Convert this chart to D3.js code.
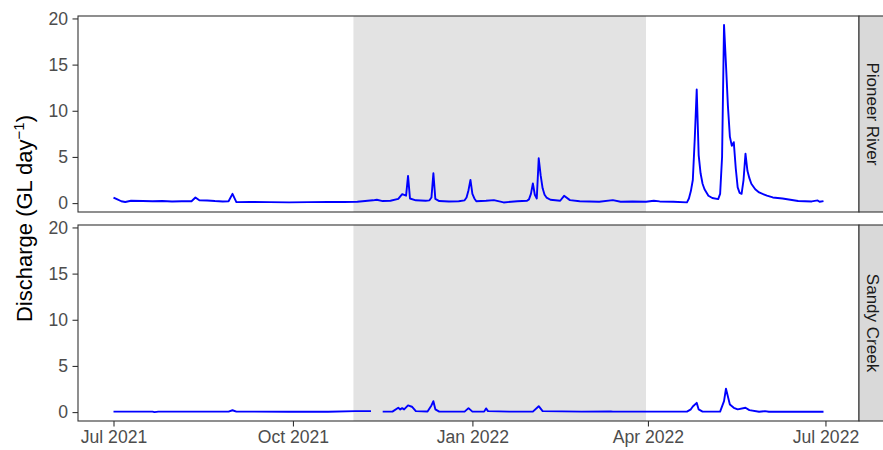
<!DOCTYPE html>
<html><head><meta charset="utf-8">
<script src="https://cdn.jsdelivr.net/npm/d3@7/dist/d3.min.js"></script>
<style>body{margin:0;background:#fff} svg{display:block}</style>
</head><body>
<svg id="chart" width="883" height="450"></svg>
<script>
// ---------- data ----------
const panelNames = ["Pioneer River", "Sandy Creek"];

const pioneerDates = [
 "2021-07-01","2021-07-03","2021-07-05","2021-07-07","2021-07-10","2021-07-16","2021-07-21","2021-07-26","2021-07-31",
 "2021-08-05","2021-08-10","2021-08-12","2021-08-14","2021-08-18","2021-08-22","2021-08-26","2021-08-29","2021-08-31",
 "2021-09-02","2021-09-09","2021-09-19","2021-09-29",
 "2021-10-09","2021-10-19","2021-10-27",
 "2021-11-03","2021-11-11","2021-11-13","2021-11-16","2021-11-20","2021-11-24","2021-11-26","2021-11-28","2021-11-29","2021-11-30",
 "2021-12-03","2021-12-08","2021-12-10","2021-12-11","2021-12-12","2021-12-13","2021-12-15","2021-12-20","2021-12-25","2021-12-28","2021-12-29","2021-12-30","2021-12-31",
 "2022-01-01","2022-01-02","2022-01-03","2022-01-08","2022-01-12","2022-01-17","2022-01-24","2022-01-29","2022-01-30","2022-01-31",
 "2022-02-01","2022-02-02","2022-02-03","2022-02-04","2022-02-05","2022-02-06","2022-02-07","2022-02-08","2022-02-10","2022-02-15","2022-02-17","2022-02-20","2022-02-25",
 "2022-03-07","2022-03-14","2022-03-18","2022-03-24","2022-03-31",
 "2022-04-04","2022-04-07","2022-04-14","2022-04-21","2022-04-22","2022-04-23","2022-04-24","2022-04-25","2022-04-26","2022-04-27","2022-04-28","2022-04-29","2022-04-30",
 "2022-05-02","2022-05-04","2022-05-07","2022-05-08","2022-05-09","2022-05-10","2022-05-11","2022-05-12","2022-05-13","2022-05-14","2022-05-15","2022-05-16","2022-05-17","2022-05-18","2022-05-19","2022-05-20","2022-05-21","2022-05-22","2022-05-23","2022-05-24","2022-05-26","2022-05-28",
 "2022-06-01","2022-06-04","2022-06-09","2022-06-13","2022-06-17","2022-06-24","2022-06-27","2022-06-28","2022-06-30"
];
const pioneerFlow = [
 0.6,0.4,0.2,0.12,0.25,0.22,0.2,0.22,0.18,
 0.2,0.2,0.6,0.3,0.28,0.22,0.18,0.2,1.0,
 0.1,0.12,0.1,0.08,
 0.1,0.12,0.12,
 0.15,0.3,0.36,0.22,0.25,0.45,0.97,0.8,2.94,0.5,
 0.3,0.25,0.3,0.6,3.23,0.45,0.22,0.18,0.2,0.3,0.6,1.4,2.51,
 1.0,0.5,0.2,0.25,0.32,0.07,0.2,0.25,0.4,1.0,
 2.12,0.9,0.5,4.85,3.0,1.6,0.9,0.6,0.36,0.25,0.79,0.32,0.2,
 0.14,0.32,0.14,0.18,0.14,
 0.25,0.18,0.15,0.08,0.5,1.3,2.5,7.0,12.3,5.2,3.2,2.1,1.5,
 0.8,0.55,0.43,1.0,5.0,19.3,15.0,10.5,7.2,6.2,6.6,3.8,1.7,1.1,1.0,2.5,5.35,3.5,2.7,2.1,1.5,1.15,
 0.8,0.61,0.5,0.36,0.22,0.18,0.29,0.14,0.22
];

const sandyDates = [
 "2021-07-01","2021-07-21","2021-07-22","2021-07-24",
 "2021-08-10","2021-08-29","2021-08-31",
 "2021-09-02","2021-09-29",
 "2021-10-19",
 "2021-11-02","2021-11-10","2021-11-11","2021-11-16","2021-11-21","2021-11-24","2021-11-25","2021-11-26","2021-11-27","2021-11-29",
 "2021-12-01","2021-12-03","2021-12-09","2021-12-11","2021-12-12","2021-12-13","2021-12-15","2021-12-28","2021-12-30",
 "2022-01-01","2022-01-07","2022-01-08","2022-01-09","2022-01-20",
 "2022-02-01","2022-02-04","2022-02-06","2022-02-26",
 "2022-03-13","2022-03-14",
 "2022-04-21","2022-04-23","2022-04-24","2022-04-26","2022-04-27","2022-04-29",
 "2022-05-08","2022-05-10","2022-05-11","2022-05-13","2022-05-15","2022-05-17","2022-05-21","2022-05-23","2022-05-28","2022-05-31",
 "2022-06-02","2022-06-30"
];
const sandyFlow = [
 0.05,0.05,0.0,0.05,
 0.05,0.05,0.2,
 0.05,0.04,
 0.04,
 0.1,0.1,null,0.05,0.05,0.47,0.29,0.43,0.29,0.72,
 0.58,0.1,0.07,0.72,1.18,0.3,0.05,0.05,0.43,
 0.05,0.05,0.4,0.1,0.05,
 0.05,0.64,0.1,0.05,
 0.08,0.05,
 0.05,0.3,0.6,1.0,0.29,0.05,
 0.05,1.18,2.53,0.82,0.47,0.29,0.47,0.21,0.04,0.1,
 0.04,0.04
];

const yTicks = [0, 5, 10, 15, 20];
const xTickDates = ["2021-07-01","2021-10-01","2022-01-01","2022-04-01","2022-07-01"];
const xTickLabels = ["Jul 2021","Oct 2021","Jan 2022","Apr 2022","Jul 2022"];
const wetSeason = ["2021-11-01","2022-03-31"];

// ---------- layout ----------
const W = 883, H = 450;
const left = 78, right = 859;
const panelTops = [16, 225];
const panelH = 196;
const stripW = 35;
const FONT = "'Liberation Sans', Arial, sans-serif";

const parse = d3.utcParse("%Y-%m-%d");
const series = [
  pioneerDates.map((d, i) => ({date: parse(d), v: pioneerFlow[i]})),
  sandyDates.map((d, i) => ({date: parse(d), v: sandyFlow[i]}))
];

const allDates = series.flat().map(d => d.date);
const [dMin, dMax] = d3.extent(allDates);
const dPad = (dMax - dMin) * 0.05;
const x = d3.scaleUtc().domain([new Date(+dMin - dPad), new Date(+dMax + dPad)]).range([left, right]);

const allV = series.flat().filter(d => d.v != null).map(d => d.v);
const [vMin, vMax] = d3.extent(allV);
const vPad = (vMax - vMin) * 0.05;

const svg = d3.select("#chart");
svg.append("rect").attr("width", W).attr("height", H).attr("fill", "#fff");

panelNames.forEach((name, p) => {
  const top = panelTops[p];
  const y = d3.scaleLinear().domain([vMin - vPad, vMax + vPad]).range([top + panelH, top]);
  const g = svg.append("g");

  g.append("rect").attr("x", left).attr("y", top).attr("width", right - left).attr("height", panelH).attr("fill", "#fff");
  g.append("rect")
    .attr("x", x(parse(wetSeason[0]))).attr("y", top)
    .attr("width", x(parse(wetSeason[1])) - x(parse(wetSeason[0])))
    .attr("height", panelH).attr("fill", "#e3e3e3");

  const line = d3.line().defined(d => d.v != null).x(d => x(d.date)).y(d => y(d.v));
  g.append("path").datum(series[p]).attr("d", line)
    .attr("fill", "none").attr("stroke", "#0000ff").attr("stroke-width", 1.9)
    .attr("stroke-linejoin", "round").attr("stroke-linecap", "butt");

  const ya = g.append("g").attr("transform", `translate(${left},0)`)
    .call(d3.axisLeft(y).tickValues(yTicks).tickSize(5.5).tickPadding(4.4));
  ya.select(".domain").remove();
  ya.selectAll(".tick line").attr("stroke", "#333333").attr("stroke-width", 1.1);
  ya.selectAll(".tick text").attr("fill", "#4d4d4d").style("font-family", FONT).style("font-size", "17.6px");

  g.append("rect").attr("x", left).attr("y", top).attr("width", right - left).attr("height", panelH)
    .attr("fill", "none").attr("stroke", "#333333").attr("stroke-width", 1.1);

  g.append("rect").attr("x", right).attr("y", top).attr("width", stripW).attr("height", panelH)
    .attr("fill", "#d9d9d9").attr("stroke", "#333333").attr("stroke-width", 1.1);
  g.append("text")
    .attr("transform", `translate(${right + 8},${top + panelH / 2}) rotate(90)`)
    .attr("text-anchor", "middle")
    .attr("fill", "#1a1a1a").style("font-family", FONT).style("font-size", "17px")
    .text(name);

  if (p === panelNames.length - 1) {
    const xa = g.append("g").attr("transform", `translate(0,${top + panelH})`)
      .call(d3.axisBottom(x).tickValues(xTickDates.map(parse)).tickSize(5.5).tickPadding(4.4)
        .tickFormat((d, i) => xTickLabels[i]));
    xa.select(".domain").remove();
    xa.selectAll(".tick line").attr("stroke", "#333333").attr("stroke-width", 1.1);
    xa.selectAll(".tick text").attr("fill", "#4d4d4d").style("font-family", FONT).style("font-size", "17.6px");
  }
});

const title = svg.append("text")
  .attr("transform", `translate(32,${(panelTops[0] + panelTops[1] + panelH) / 2}) rotate(-90)`)
  .attr("text-anchor", "middle")
  .attr("fill", "#000").style("font-family", FONT).style("font-size", "22px");
title.append("tspan").text("Discharge (GL day");
title.append("tspan").attr("font-size", "15px").attr("dy", "-8").text("\u22121");
title.append("tspan").attr("dy", "8").text(")");
</script>
</body></html>
